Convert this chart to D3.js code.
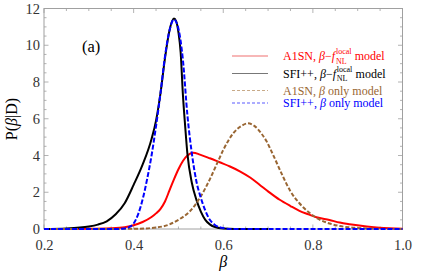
<!DOCTYPE html>
<html><head><meta charset="utf-8">
<script src="https://cdn.jsdelivr.net/npm/d3@7"></script>
<style>body{margin:0;background:#fff}svg{display:block}text{font-family:"Liberation Serif","Times New Roman",serif}</style>
</head><body><svg id="c" width="443" height="276"></svg>
<script>
// ---- data ----
const xTicks = [0.2, 0.4, 0.6, 0.8, 1.0];
const xTickLabels = ["0.2", "0.4", "0.6", "0.8", "1.0"];
const yTicks = [0, 2, 4, 6, 8, 10, 12];
const yTickLabels = ["0", "2", "4", "6", "8", "10", "12"];

const a1snJointBeta = [0.20,0.30,0.35,0.38,0.40,0.42,0.44,0.45,0.46,0.47,0.48,0.49,0.50,0.51,0.52,0.533,0.548,0.57,0.592,0.615,0.637,0.66,0.681,0.70,0.726,0.75,0.77,0.79,0.808,0.837,0.86,0.882,0.92,0.949,1.0];
const a1snJointP    = [0.00,0.01,0.04,0.10,0.20,0.38,0.65,0.85,1.10,1.50,2.10,2.70,3.25,3.70,4.00,4.15,4.05,3.85,3.63,3.40,3.14,2.80,2.41,2.05,1.59,1.25,0.99,0.80,0.64,0.49,0.35,0.26,0.14,0.07,0.02];

const sfiJointBeta = [0.20,0.25,0.28,0.30,0.32,0.34,0.36,0.38,0.40,0.42,0.44,0.45,0.46,0.47,0.48,0.49,0.495,0.50,0.505,0.51,0.515,0.52,0.53,0.54,0.55,0.56,0.57,0.58,0.60,0.65,0.70];
const sfiJointP    = [0.00,0.03,0.08,0.14,0.24,0.42,0.80,1.40,2.40,3.50,4.90,5.90,7.40,9.30,10.80,11.45,11.30,10.70,9.60,7.30,5.60,4.10,2.50,1.60,0.95,0.50,0.25,0.12,0.03,0.00,0.00];

const a1snBetaOnlyBeta = [0.20,0.40,0.45,0.48,0.50,0.525,0.548,0.57,0.585,0.60,0.622,0.64,0.655,0.67,0.685,0.696,0.71,0.733,0.75,0.77,0.793,0.81,0.837,0.86,0.882,0.92,0.95,1.0];
const a1snBetaOnlyP    = [0.00,0.01,0.08,0.25,0.50,0.95,1.70,2.70,3.50,4.30,5.20,5.60,5.75,5.60,5.20,4.80,4.10,2.87,2.05,1.40,0.87,0.58,0.30,0.16,0.09,0.03,0.01,0.00];

const sfiBetaOnlyBeta = [0.20,0.36,0.38,0.39,0.40,0.41,0.42,0.43,0.44,0.45,0.46,0.47,0.48,0.49,0.50,0.51,0.52,0.53,0.54,0.55,0.56,0.57,0.58,0.60,0.62,1.0];
const sfiBetaOnlyP    = [0.00,0.00,0.03,0.10,0.30,0.80,1.60,2.70,4.00,5.60,7.40,9.40,10.80,11.40,10.90,9.20,6.20,4.10,2.60,1.70,1.00,0.50,0.25,0.05,0.00,0.00];

const seriesColors = ["#ff0000", "#000000", "#996633", "#0000ff"];

// ---- chart ----
const svg = d3.select("#c");
const m = {l:44, r:402.5, t:8.5, b:229};
const x = d3.scaleLinear().domain([0.2, 1.0]).range([m.l, m.r]);
const y = d3.scaleLinear().domain([0, 12]).range([m.b, m.t]);
const frameColor = "#a0a0a0";

svg.append("rect").attr("x", m.l).attr("y", m.t).attr("width", m.r - m.l).attr("height", m.b - m.t)
  .attr("fill", "none").attr("stroke", frameColor).attr("stroke-width", 1);

const xMinor = d3.range(0.2, 1.0001, 0.05);
const yMinor = d3.range(0, 12.0001, 0.5);
const tg = svg.append("g").attr("stroke", frameColor).attr("stroke-width", 0.8);
xMinor.forEach(v => {
  const major = Math.abs(Math.round(v*5) - v*5) < 1e-6;
  const L = major ? 4.5 : 2.5;
  tg.append("line").attr("x1", x(v)).attr("x2", x(v)).attr("y1", m.b).attr("y2", m.b - L);
  tg.append("line").attr("x1", x(v)).attr("x2", x(v)).attr("y1", m.t).attr("y2", m.t + L);
});
yMinor.forEach(v => {
  const major = Math.abs(v/2 - Math.round(v/2)) < 1e-6;
  const L = major ? 4.5 : 2.5;
  tg.append("line").attr("x1", m.l).attr("x2", m.l + L).attr("y1", y(v)).attr("y2", y(v));
  tg.append("line").attr("x1", m.r).attr("x2", m.r - L).attr("y1", y(v)).attr("y2", y(v));
});

const xAxis = d3.axisBottom(x).tickValues(xTicks).tickFormat((d,i) => xTickLabels[i]).tickSize(0).tickPadding(11);
const gx = svg.append("g").attr("transform", `translate(0,${m.b})`).call(xAxis);
const yAxis = d3.axisLeft(y).tickValues(yTicks).tickFormat((d,i) => yTickLabels[i]).tickSize(0).tickPadding(4);
const gy = svg.append("g").attr("transform", `translate(${m.l},0)`).call(yAxis);
[gx, gy].forEach(g => {
  g.select(".domain").remove();
  g.selectAll("text").attr("font-family", "'Liberation Serif',serif").attr("font-size", 14.5).attr("fill", "#333");
});

const line = d3.line().x(d => x(d[0])).y(d => y(d[1])).curve(d3.curveMonotoneX);
const series = [
  {b: a1snJointBeta, p: a1snJointP, c: seriesColors[0], dash: null},
  {b: sfiJointBeta, p: sfiJointP, c: seriesColors[1], dash: null},
  {b: a1snBetaOnlyBeta, p: a1snBetaOnlyP, c: seriesColors[2], dash: "4,2"},
  {b: sfiBetaOnlyBeta, p: sfiBetaOnlyP, c: seriesColors[3], dash: "5,2"}
];
const cg = svg.append("g");
series.forEach(s => {
  cg.append("path").datum(d3.zip(s.b, s.p)).attr("d", line)
    .attr("fill", "none").attr("stroke", s.c).attr("stroke-width", 2)
    .attr("stroke-dasharray", s.dash);
});

svg.append("text").attr("x", 82).attr("y", 52).attr("font-size", 16.5).text("(a)");

svg.append("text").attr("x", x(0.6)).attr("y", 267).attr("text-anchor", "middle")
  .attr("font-size", 16).attr("font-style", "italic").text("β");
const yl = svg.append("text").attr("transform", "translate(17,119) rotate(-90)").attr("text-anchor", "middle").attr("font-size", 16);
yl.append("tspan").text("P(");
yl.append("tspan").attr("font-style", "italic").text("β");
yl.append("tspan").text("|D)");

// legend
const legend = [
  {y: 56, c: seriesColors[0], lc: "#f07070", dash: null, joint: true, pre: "A1SN, "},
  {y: 73.5, c: seriesColors[1], lc: "#777", dash: null, joint: true, pre: "SFI++, "},
  {y: 90.5, c: seriesColors[2], lc: "#c8aa88", dash: "3,2", joint: false, pre: "A1SN, "},
  {y: 103, c: seriesColors[3], lc: "#5a5aff", dash: "3,2", joint: false, pre: "SFI++, "}
];
const lg = svg.append("g");
legend.forEach(L => {
  lg.append("line").attr("x1", 232).attr("x2", 268).attr("y1", L.y).attr("y2", L.y)
    .attr("stroke", L.lc).attr("stroke-width", 1.2).attr("stroke-dasharray", L.dash);
  const tx = 283, ty = L.y + 4;
  const t = lg.append("text").attr("x", tx).attr("y", ty).attr("font-size", 12).attr("fill", L.c);
  t.append("tspan").text(L.pre);
  t.append("tspan").attr("font-style", "italic").text("β");
  if (L.joint) {
    t.append("tspan").text("−");
    t.append("tspan").attr("font-style", "italic").text("f");
    const w = t.node().getComputedTextLength();
    const sup = lg.append("text").attr("x", tx + w + 0.8).attr("y", ty - 6).attr("font-size", 8).attr("fill", L.c).text("local");
    const sub = lg.append("text").attr("x", tx + w + 0.8).attr("y", ty + 3.5).attr("font-size", 8).attr("fill", L.c).text("NL");
    const w2 = Math.max(sup.node().getComputedTextLength(), sub.node().getComputedTextLength());
    lg.append("text").attr("x", tx + w + 1 + w2).attr("y", ty).attr("font-size", 12).attr("fill", L.c).text("\u00a0model");
  } else {
    t.append("tspan").text(" only model");
  }
});
</script></body></html>
